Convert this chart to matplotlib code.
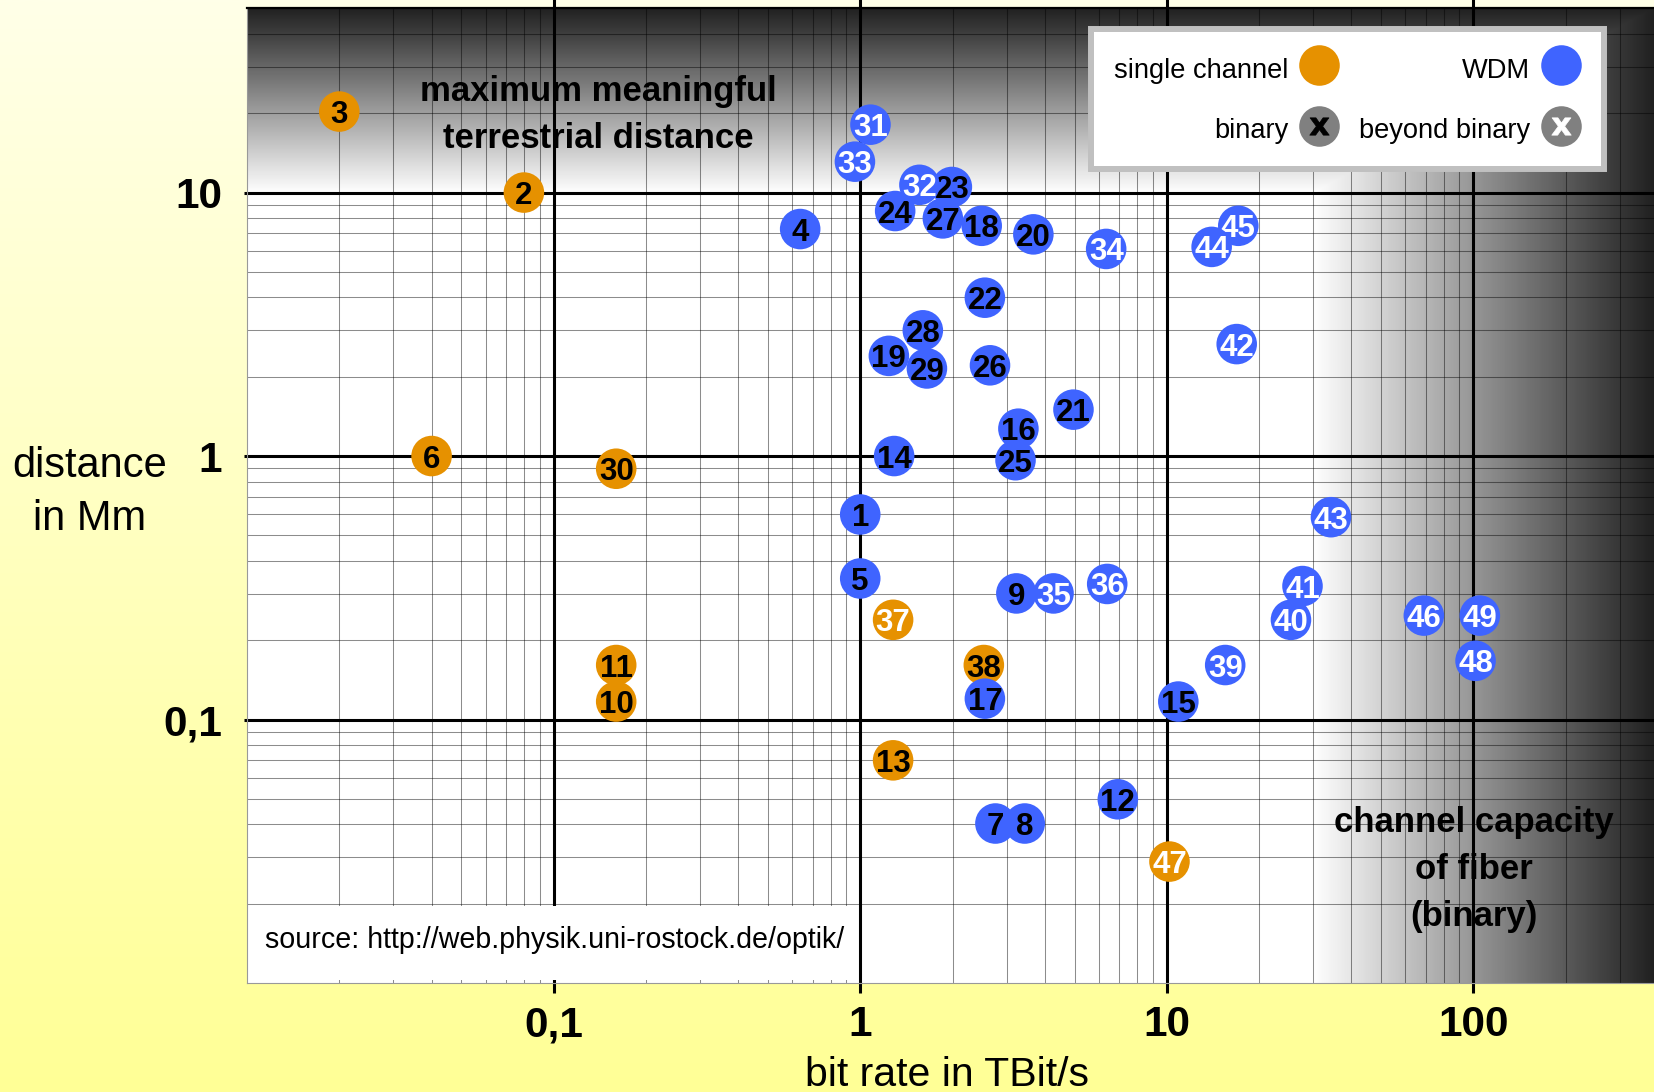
import numpy as np
import matplotlib
matplotlib.use('Agg')
import matplotlib.pyplot as plt
from matplotlib import font_manager
from matplotlib.lines import Line2D
from matplotlib.patches import Rectangle
from matplotlib.ticker import FixedLocator, LogLocator

# --- data: experiment number, bit rate (TBit/s), distance (Mm), beyond binary? ---
# listed in drawing order (later entries lie on top)
single_ids = [2, 3, 6, 10, 11, 13, 30, 37, 38, 47]
single_rate = [0.08, 0.02, 0.04, 0.16, 0.16, 1.28, 0.16, 1.28, 2.53, 10.2]
single_dist = [10.0, 20.3, 1.0, 0.117, 0.161, 0.070, 0.895, 0.239, 0.161, 0.0289]
single_beyond = [False, False, False, False, False, False, False, True, False, True]

wdm_ids = [1, 4, 5, 7, 8, 9, 12, 14, 15, 16, 17, 18, 19, 20, 21, 22, 23, 24, 25,
           26, 27, 28, 29, 31, 32, 33, 34, 35, 36, 39, 41, 40, 42, 43, 45, 44,
           46, 48, 49]
wdm_rate = [1.0, 0.637, 1.0, 2.76, 3.44, 3.23, 6.92, 1.29, 10.9, 3.28, 2.55, 2.49,
            1.24, 3.67, 4.96, 2.55, 1.99, 1.30, 3.21, 2.65, 1.86, 1.60, 1.65,
            1.08, 1.56, 0.961, 6.34, 4.27, 6.39, 15.5, 27.7, 25.4, 16.9, 34.3,
            17.1, 14.0, 68.9, 101.6, 104.9]
wdm_dist = [0.60, 7.27, 0.343, 0.0403, 0.0403, 0.301, 0.0498, 1.0, 0.117, 1.27,
            0.120, 7.48, 2.40, 6.94, 1.50, 3.99, 10.5, 8.51, 0.964, 2.21, 7.98,
            3.00, 2.15, 18.1, 10.7, 13.1, 6.11, 0.301, 0.327, 0.161, 0.321,
            0.239, 2.66, 0.586, 7.48, 6.22, 0.248, 0.167, 0.248]
wdm_beyond = [False] * 23 + [True] * 16

x_ticks = [0.1, 1, 10, 100]
x_tick_labels = ['0,1', '1', '10', '100']
y_ticks = [0.1, 1, 10]
y_tick_labels = ['0,1', '1', '10']
x_lim = (0.01, 388)
y_lim = (0.01, 50)

ORANGE = '#E69100'
BLUE = '#3F64FF'
GREY = '#808080'

names = {f.name for f in font_manager.fontManager.ttflist}
narrow = 'Liberation Sans Narrow' in names
SANS = 'Liberation Sans'
NARROW = 'Liberation Sans Narrow' if narrow else SANS
plt.rcParams['font.family'] = [SANS, 'DejaVu Sans']

W, H = 1654, 1092
fig = plt.figure(figsize=(W / 100, H / 100), dpi=100)
pos = [247 / W, 1 - 983 / H, 1407 / W, (983 - 8.4) / H]

# yellow page background
bg = fig.add_axes([0, 0, 1, 1], zorder=-2)
t = np.linspace(0, 1, 256)[:, None]
top_c = np.array([255, 255, 232]) / 255
bot_c = np.array([255, 255, 150]) / 255
grad = top_c[None, None, :] * (1 - t[..., None]) + bot_c[None, None, :] * t[..., None]
bg.imshow(grad, aspect='auto', extent=(0, 1, 0, 1), interpolation='bilinear')
bg.axis('off')

# grey shading: beyond terrestrial distance (top) and beyond channel capacity (right)
gax = fig.add_axes(pos, zorder=-1)
lx0, lx1 = np.log10(x_lim)
ly0, ly1 = np.log10(y_lim)
fx = np.linspace(0, 1, 800)
fy = np.linspace(0, 1, 600)
fx0 = (np.log10(30) - lx0) / (lx1 - lx0)
fy0 = (np.log10(10) - ly0) / (ly1 - ly0)
tx = np.clip((fx - fx0) / (1 - fx0), 0, 1)
ty = np.clip((fy - fy0) / (1 - fy0), 0, 1)
shade = 1 - 0.87 * np.maximum(tx[None, :], ty[:, None])
gax.imshow(shade, cmap='gray', vmin=0, vmax=1, aspect='auto', origin='lower',
           extent=(0, 1, 0, 1), interpolation='bilinear')
gax.axis('off')

ax = fig.add_axes(pos, zorder=0)
ax.set_facecolor('none')
ax.set_xscale('log')
ax.set_yscale('log')
ax.set_xlim(*x_lim)
ax.set_ylim(*y_lim)

ax.xaxis.set_major_locator(FixedLocator(x_ticks))
ax.yaxis.set_major_locator(FixedLocator(y_ticks))
ax.xaxis.set_minor_locator(LogLocator(base=10, subs=np.arange(2, 10), numticks=100))
ax.yaxis.set_minor_locator(LogLocator(base=10, subs=np.arange(2, 10), numticks=100))
ax.set_xticklabels(x_tick_labels, fontweight='bold', fontsize=30.5)
ax.set_yticklabels(y_tick_labels, fontweight='bold', fontsize=30.5)

ax.set_axisbelow(True)
ax.grid(which='major', color='black', lw=2.2)
ax.grid(which='minor', color='black', lw=0.75, alpha=0.45)
ax.tick_params(axis='x', which='major', direction='out', length=7, width=2.2,
               pad=9, top=True, bottom=True, labeltop=False)
ax.tick_params(axis='y', which='major', direction='out', length=2, width=2.2, pad=16)
ax.tick_params(which='minor', length=0)

ax.spines['right'].set_visible(False)
ax.spines['top'].set_color('black')
ax.spines['top'].set_linewidth(1.6)
for s in ('left', 'bottom'):
    ax.spines[s].set_color('#999999')
    ax.spines[s].set_linewidth(0.8)

ax.set_ylabel('distance\nin Mm', rotation=0, fontsize=30, linespacing=1.42,
              ha='center', va='center')
ax.yaxis.set_label_coords(-0.1116, 0.503)
ax.set_xlabel('bit rate in TBit/s', fontsize=29.5, va='baseline')
ax.xaxis.set_label_coords(0.4975, -0.1057)

# annotations (under the grid lines)
ax.text(0.14, 19.7, 'maximum meaningful\nterrestrial distance', ha='center', va='center',
        fontsize=25, fontweight='bold', linespacing=1.52, zorder=0.3)
ax.text(100, 0.027, 'channel capacity\nof fiber\n(binary)', ha='center', va='center',
        fontsize=25, fontweight='bold', linespacing=1.53, zorder=0.3)

ax.add_patch(Rectangle((0, 0.003), 0.433, 0.076, transform=ax.transAxes,
                       facecolor='white', edgecolor='none', zorder=1))
ax.text(0.0128, 0.0441, 'source: http://web.physik.uni-rostock.de/optik/',
        transform=ax.transAxes, ha='left', va='center', family=NARROW,
        fontsize=24.5 if narrow else 20.6, zorder=1.1)

# data points with their numbers
z = 3
for ids, rate, dist, beyond, col in (
        (single_ids, single_rate, single_dist, single_beyond, ORANGE),
        (wdm_ids, wdm_rate, wdm_dist, wdm_beyond, BLUE)):
    for n, x, y, b in zip(ids, rate, dist, beyond):
        ax.scatter([x], [y], s=853, color=col, edgecolors='none', zorder=z)
        ax.text(x, y, str(n), ha='center', va='center_baseline', fontsize=22.5,
                fontweight='bold', color='white' if b else 'black', zorder=z + 0.5)
        z += 1

# legend
fs = 23.8 if narrow else 19.6
fs_px = fs * 100 / 72
ms = 29.2
h_single = Line2D([], [], ls='none', marker='o', ms=ms, mfc=ORANGE, mec='none')
h_wdm = Line2D([], [], ls='none', marker='o', ms=ms, mfc=BLUE, mec='none')
circ = Line2D([], [], ls='none', marker='o', ms=ms, mfc=GREY, mec='none')
x_black = Line2D([], [], ls='none', marker='$\\mathbf{x}$', ms=14, color='black', mew=0.5)
x_white = Line2D([], [], ls='none', marker='$\\mathbf{x}$', ms=14, color='white', mew=0.5)
leg = ax.legend([h_single, (circ, x_black), h_wdm, (circ, x_white)],
                ['single channel', 'binary', 'WDM', 'beyond binary'],
                ncol=2, markerfirst=False, loc='upper right',
                bbox_to_anchor=(1604 / W, 1 - 29.3 / H), bbox_transform=fig.transFigure,
                borderaxespad=0, prop={'family': NARROW, 'size': fs},
                handlelength=40.6 / fs_px, handleheight=40.6 / fs_px,
                labelspacing=27.5 / fs_px, columnspacing=19 / fs_px,
                handletextpad=10.6 / fs_px, borderpad=23 / fs_px,
                fancybox=False, framealpha=1)
leg.get_frame().set_facecolor('white')
leg.get_frame().set_edgecolor('#c0c0c0')
leg.get_frame().set_linewidth(4.3)
leg.set_zorder(100)

fig.savefig('out.png', dpi=100)
